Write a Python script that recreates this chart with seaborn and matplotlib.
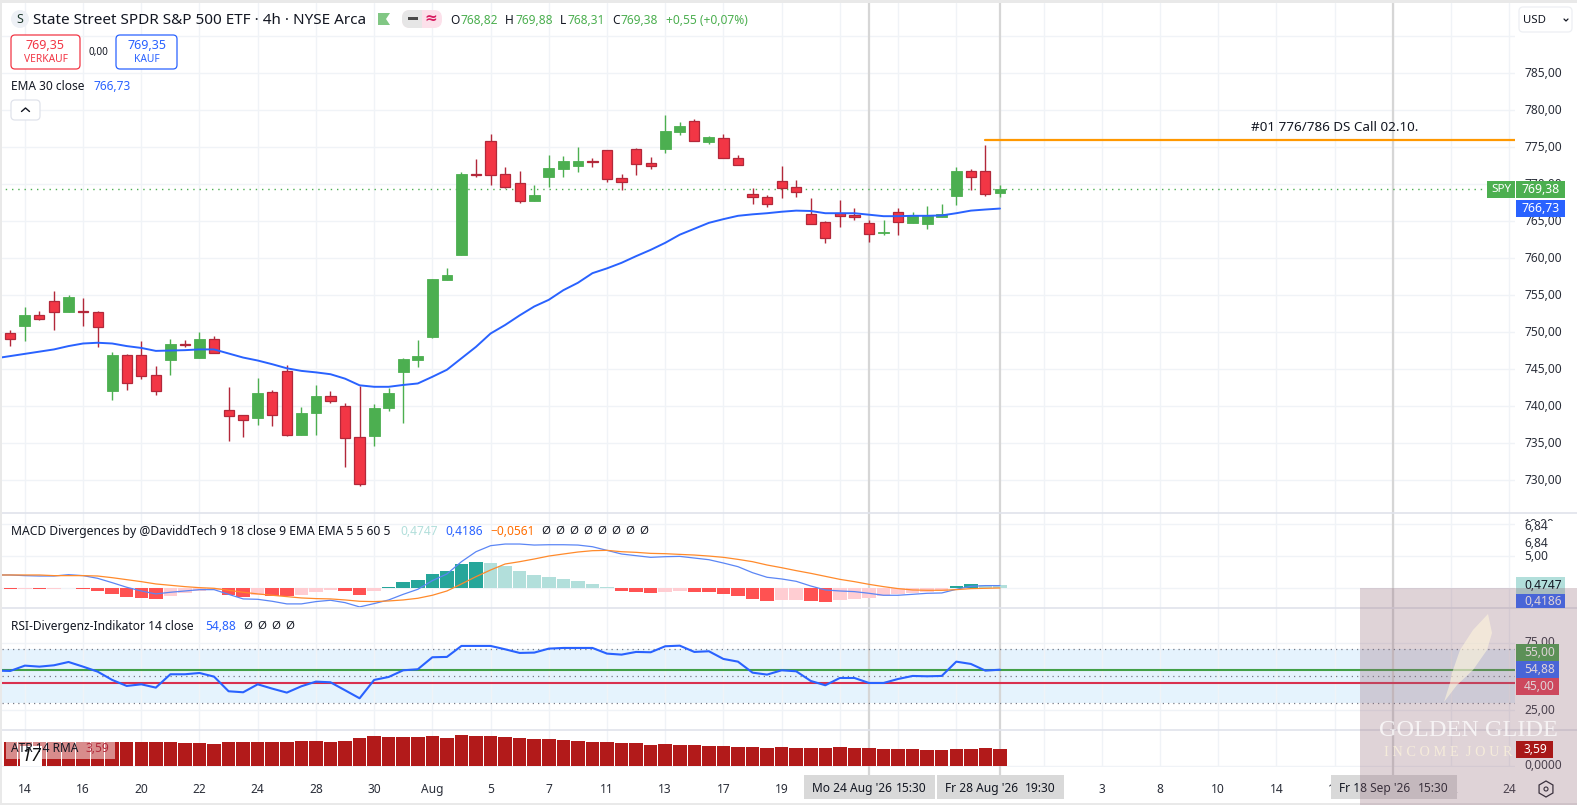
import matplotlib
matplotlib.use("Agg")
import matplotlib.pyplot as plt
import numpy as np
import seaborn as sns
from matplotlib.patches import FancyBboxPatch, Rectangle, Polygon, Circle, RegularPolygon

# ---------- data ----------
opens = [
749.9,750.9,752.3,754.3,752.8,752.9,752.7,742.1,746.9,747.0,
744.2,746.3,748.4,746.55,749.05,739.45,738.8,738.45,741.9,744.85,
736.2,739.1,741.35,740.0,735.8,736.05,739.8,744.7,746.3,749.4,
757.1,760.45,771.4,775.8,771.35,770.15,767.8,771.0,772.05,772.5,
773.15,774.6,770.8,774.75,772.85,774.75,777.05,778.5,775.7,776.2,
773.5,768.65,768.25,770.4,769.6,765.95,764.85,766.1,765.85,764.75,
763.45,766.2,764.75,764.65,765.6,768.4,771.75,771.75,768.82]
closes = [
749.05,752.35,751.85,752.8,754.8,752.8,750.75,746.95,743.2,744.15,
742.1,748.4,748.3,749.1,747.25,738.75,738.2,741.8,738.9,736.2,
739.1,741.4,740.75,735.75,729.55,739.8,741.8,746.4,746.8,757.2,
757.75,771.4,771.25,771.3,769.7,767.8,768.55,772.2,773.15,773.15,
773.0,770.75,770.35,772.8,772.5,777.2,777.9,775.8,776.4,773.6,
772.65,768.35,767.4,769.55,769.0,764.7,762.7,765.75,765.65,763.35,
763.55,764.85,765.85,765.7,766.0,771.8,771.05,768.75,769.38]
highs = [
750.3,753.4,752.9,755.6,755.05,754.6,752.9,747.35,747.05,748.85,
745.45,749.1,748.95,750.05,749.5,742.6,738.8,743.8,742.15,745.55,
739.9,742.9,742.05,740.4,742.8,740.3,742.55,746.5,748.95,757.2,
758.7,771.65,773.4,776.8,772.35,771.8,769.9,774.0,773.85,775.05,
773.55,774.6,771.4,774.9,773.7,779.35,778.4,778.85,776.55,776.8,
774.0,769.5,768.55,772.5,770.6,768.1,765.05,767.9,766.8,765.25,
765.2,766.8,766.25,767.05,767.35,772.35,772.05,775.3,769.88]
lows = [
748.1,748.9,751.7,750.3,752.8,750.8,748.05,740.9,742.25,743.75,
741.6,744.3,748.05,746.55,747.25,735.35,735.9,737.5,737.4,736.05,
736.2,736.2,740.5,731.85,729.3,734.7,739.4,737.8,745.35,749.3,
757.1,760.45,771.05,769.9,769.55,767.5,767.8,769.65,771.0,771.65,
772.35,770.3,769.3,771.25,772.05,774.25,776.65,775.8,775.45,773.6,
772.65,767.35,766.95,768.15,768.3,764.7,762.1,764.3,765.2,762.25,
763.2,763.2,764.75,763.95,765.55,767.2,769.25,768.4,768.31]
ema30 = [
746.5,746.8,747.1,747.4,747.7,748.15,748.5,748.6,748.5,748.15,747.9,
747.5,747.55,747.6,747.7,747.7,747.15,746.6,746.2,745.7,745.15,
744.8,744.6,744.35,743.75,742.85,742.65,742.65,742.9,743.1,744.0,
744.95,746.5,748.05,749.85,751.0,752.3,753.5,754.4,755.7,756.7,
758.0,758.65,759.4,760.3,761.15,762.1,763.2,764.0,764.8,765.3,
765.75,765.95,766.1,766.3,766.45,766.4,766.1,766.1,766.1,765.9,
765.7,765.7,765.75,765.75,765.8,766.1,766.45,766.6,766.73]

macd_hist = [
-0.1,-0.1,-0.1,-0.1,0.1,-0.1,-0.4,-0.9,-1.35,-1.5,
-1.65,-1.2,-0.75,-0.5,-0.3,-1.0,-1.35,-1.0,-1.2,-1.2,
-1.05,-0.55,-0.25,-0.4,-1.05,-0.4,0.2,1.0,1.3,2.25,
2.7,3.8,4.1,3.95,3.55,2.7,2.1,1.8,1.45,1.15,
0.7,0.2,-0.4,-0.55,-0.75,-0.55,-0.4,-0.55,-0.55,-0.9,
-1.2,-1.65,-2.0,-1.8,-1.8,-2.0,-2.15,-1.8,-1.65,-1.5,
-1.2,-0.9,-0.75,-0.55,-0.4,0.3,0.7,0.5,0.4747]
macd_kind = list(
"RPRPTRRRRR" "RPPPPRRPRR" "PPPRRPTTTT" "TTTLLLLLLL"
"LLRRRPPRRR" "RRRPPRRPPP" "PPPPPTTLL")
macd_line = [
2.08,2.08,1.98,1.92,1.92,2.13,1.98,1.56,0.88,0.16,-0.42,
-0.88,-0.62,-0.42,-0.21,-0.21,-0.94,-1.66,-1.72,-2.03,-2.44,
-2.44,-2.08,-1.87,-2.24,-2.91,-2.39,-1.82,-0.94,-0.16,1.2,
2.24,4.16,5.72,6.66,6.92,6.92,6.76,6.81,6.81,6.76,
6.5,5.93,5.36,5.1,4.84,4.94,4.99,4.73,4.47,3.95,
3.38,2.44,1.72,1.46,1.09,0.36,-0.26,-0.42,-0.52,-0.78,
-1.09,-1.09,-0.94,-0.78,-0.73,-0.16,0.31,0.42,0.4186]
macd_signal = [
2.08,2.08,2.08,2.08,1.98,1.98,1.98,1.92,1.66,1.35,1.04,
0.68,0.47,0.26,0.1,0.0,-0.31,-0.62,-0.88,-1.09,-1.3,
-1.51,-1.61,-1.66,-1.82,-2.03,-2.08,-1.98,-1.82,-1.56,-1.09,
-0.42,0.68,1.82,2.86,3.8,4.16,4.58,5.04,5.36,5.67,
5.88,5.93,5.72,5.62,5.46,5.41,5.3,5.2,5.04,4.84,
4.52,4.16,3.64,3.22,2.76,2.34,1.87,1.4,1.04,0.62,
0.26,-0.05,-0.26,-0.31,-0.31,-0.21,-0.05,0.0,0.05]
rsi = [
54.2,53.95,57.9,57.15,58.15,60.6,57.15,53.45,47.3,42.85,44.05,
41.6,51.5,51.5,52.45,49.75,38.9,38.15,44.05,40.85,37.9,
42.6,46.05,45.55,39.65,33.7,47.3,49.5,54.45,55.2,64.1,
64.35,72.5,72.5,72.5,70.0,67.3,67.55,70.5,71.0,71.0,
71.0,66.8,66.05,68.05,67.8,72.25,72.7,68.05,68.55,62.85,
60.85,52.7,51.25,54.45,53.7,46.55,43.35,48.75,48.75,45.05,
45.05,48.0,50.25,50.0,50.25,60.85,59.15,54.2,54.88]
atr = [
5.09,5.09,5.09,5.09,5.09,5.09,5.09,5.09,5.09,5.09,
5.09,5.09,4.87,4.87,4.66,5.09,5.09,5.09,5.09,5.09,
5.3,5.3,5.09,5.3,5.95,6.38,6.16,6.16,6.16,6.38,
5.95,6.59,6.38,6.38,6.16,5.95,5.73,5.73,5.52,5.3,
5.09,5.09,4.87,4.87,4.44,4.66,4.44,4.44,4.23,4.23,
4.01,4.01,3.8,4.01,3.8,3.8,3.8,4.01,3.8,3.8,
3.58,3.58,3.58,3.37,3.37,3.58,3.58,3.8,3.59]

tick_pos = [1,5,9,13,17,21,25,29,33,37,41,45,49,53,57,61,65,71,75,79,83,87,91,95,99,103]
tick_lab = ["14","16","20","22","24","28","30","Aug","5","7","11","13","17","19",
            "","","","","3","8","10","14","16","","22","24"]
price_ticks = [730,735,740,745,750,755,760,765,770,775,780,785,790]
cross_idx = [59,68,95]
target_level = 776.0
last_price = 769.38

# ---------- style ----------
sns.set_theme(style="white")
FONT = ["Noto Sans", "DejaVu Sans"]
plt.rcParams["font.family"] = FONT
W, H = 1577, 805
fig = plt.figure(figsize=(W/100, H/100), dpi=100, facecolor="white")

TXT = "#131722"; GRID = "#F0F3F7"; SEP = "#E0E3EB"; CROSS = "#D6D6D6"
UP = "#4CAF50"; DOWN = "#F23645"; DOWNE = "#B2283A"; BLUE = "#2962FF"
XL = (-0.57, 103.39)
AX_FS = 8.6
n = len(opens)
idx = np.arange(n)
idx_pre = np.arange(-1, n)


def pane(y0, y1, ylim, yticks=None, ylabels=None):
    ax = fig.add_axes([2/W, 1-y1/H, 1513/W, (y1-y0)/H], zorder=1)
    ax.set_facecolor("none")
    for s in ax.spines.values():
        s.set_visible(False)
    ax.set_xlim(*XL); ax.set_ylim(*ylim)
    ax.set_xticks(tick_pos)
    ax.set_xticklabels([])
    ax.tick_params(axis="x", length=0)
    ax.yaxis.tick_right()
    if yticks is not None:
        ax.set_yticks(yticks)
        ax.set_yticklabels(ylabels, fontsize=AX_FS, color="#2A2E39", va="bottom")
    else:
        ax.set_yticks([])
    ax.tick_params(axis="y", length=0, pad=6.5)
    ax.grid(True, color=GRID, lw=1.0, zorder=0)
    ax.set_axisbelow(True)
    for c in cross_idx:
        ax.axvline(c, color=CROSS, lw=1.6, zorder=0.9)
    return ax


# ---------- price pane ----------
ax = pane(3, 513, (725.6, 794.5), price_ticks,
          [f"{p},00" if p != 790 else "" for p in price_ticks])
o, c, h, l = map(np.array, (opens, closes, highs, lows))
up = c >= o
ax.vlines(idx[up], l[up], h[up], color=UP, lw=1.0, zorder=2)
ax.vlines(idx[~up], l[~up], h[~up], color=DOWNE, lw=1.0, zorder=2)
sns.barplot(x=idx[up], y=(c-o)[up], bottom=o[up], native_scale=True, width=0.74,
            color=UP, edgecolor=UP, linewidth=0.6, saturation=1, errorbar=None, ax=ax, zorder=3)
sns.barplot(x=idx[~up], y=(o-c)[~up], bottom=c[~up], native_scale=True, width=0.70,
            color=DOWN, edgecolor=DOWNE, linewidth=0.9, saturation=1, errorbar=None, ax=ax, zorder=3)
sns.lineplot(x=idx_pre, y=ema30, color=BLUE, lw=1.4, errorbar=None, ax=ax, zorder=4, legend=False)
ax.plot([-1, 101.4], [last_price]*2, color=UP, lw=1.0, ls=(0, (1, 3.5)), zorder=1.5)
ax.plot([67, 103.39], [target_level]*2, color="#FF9800", lw=1.6, zorder=5)
ax.text(91.0, 777.7, "#01 776/786 DS Call 02.10.", fontsize=9.7, color=TXT, ha="center", va="center")
ax.set_xlim(*XL); ax.set_ylim(725.6, 794.5)
ax.set_xticks(tick_pos); ax.set_xticklabels([]); ax.set_xlabel(""); ax.set_ylabel("")

# ---------- MACD pane ----------
ax2 = pane(513, 608, (-3.08, 11.77), [0, 5, 10], ["", "5,00", "10,00"])
pal = {"R": "#FF5252", "P": "#FFCDD2", "T": "#26A69A", "L": "#B2DFDB"}
sns.barplot(x=idx, y=macd_hist, hue=macd_kind, palette=pal, native_scale=True, dodge=False,
            width=0.93, saturation=1, errorbar=None, legend=False, linewidth=0, ax=ax2, zorder=2)
sns.lineplot(x=idx_pre, y=macd_line, color="#5B86F5", lw=0.9, errorbar=None, ax=ax2, zorder=3, legend=False)
sns.lineplot(x=idx_pre, y=macd_signal, color="#FF8A2B", lw=0.9, errorbar=None, ax=ax2, zorder=4, legend=False)
ax2.set_xlim(*XL); ax2.set_ylim(-3.08, 11.77)
ax2.set_xticks(tick_pos); ax2.set_xticklabels([]); ax2.set_xlabel(""); ax2.set_ylabel("")

# ---------- RSI pane ----------
ax3 = pane(608, 730, (10.2, 100.6), [25, 75], ["25,00", "75,00"])
ax3.axhspan(30, 70, color="#E3F2FD", alpha=0.9, lw=0, zorder=0.5)
for lev in (30, 50, 70):
    ax3.axhline(lev, color="#787B86", lw=0.9, ls=(0, (1, 3.2)), zorder=1)
ax3.axhline(55, color="#43A047", lw=1.5, zorder=3)
ax3.axhline(45, color="#D9304F", lw=1.5, zorder=3)
sns.lineplot(x=idx_pre, y=rsi, color=BLUE, lw=1.5, errorbar=None, ax=ax3, zorder=4, legend=False)
ax3.set_xlim(*XL); ax3.set_ylim(10.2, 100.6)
ax3.set_xticks(tick_pos); ax3.set_xticklabels([]); ax3.set_xlabel(""); ax3.set_ylabel("")

# ---------- ATR pane ----------
ax4 = pane(730, 767, (-0.28, 7.68), [0], ["0,0000"])
sns.barplot(x=idx, y=atr, native_scale=True, color="#B21A1A", width=0.93, saturation=1,
            errorbar=None, linewidth=0, ax=ax4, zorder=2)
ax4.set_xlim(*XL); ax4.set_ylim(-0.28, 7.68)
ax4.set_xticks(tick_pos)
ax4.set_xticklabels(tick_lab, fontsize=AX_FS, color="#2A2E39")
ax4.tick_params(axis="x", length=5.8, width=1.0, color=GRID, pad=5.7)
for t, s in zip(ax4.get_xticklabels(), tick_lab):
    if s == "Aug":
        t.set_fontweight("bold")
ax4.set_xlabel(""); ax4.set_ylabel("")
for c_i in cross_idx:
    ax4.vlines(c_i, -1.9, -0.28, color=CROSS, lw=1.6, clip_on=False, zorder=1)

# tick labels sit slightly above their grid lines
for a in (ax, ax2, ax3, ax4):
    for t in a.get_yticklabels():
        t.set_verticalalignment("center")
        t.set_y(t.get_position()[1])
    a.tick_params(axis="y", labelsize=AX_FS)
    for t in a.yaxis.get_major_ticks():
        t.label2.set_verticalalignment("center")
        t.label2.set_fontsize(AX_FS)

# ---------- overlay in pixel coordinates ----------
ov = fig.add_axes([0, 0, 1, 1], zorder=5)
ov.set_xlim(0, W); ov.set_ylim(H, 0); ov.axis("off"); ov.patch.set_alpha(0)


def rect(x0, y0, x1, y1, col, alpha=1.0, z=2):
    ov.add_patch(Rectangle((x0, y0), x1-x0, y1-y0, fc=col, ec="none", alpha=alpha, zorder=z))


def rbox(x0, y0, x1, y1, ec, fc="white", r=4, lw=0.9, z=2):
    ov.add_patch(FancyBboxPatch((x0+r, y0+r), x1-x0-2*r, y1-y0-2*r,
                                boxstyle=f"round,pad={r},rounding_size={r}",
                                fc=fc, ec=ec, lw=lw, zorder=z))


def txt(x, y, s, col=TXT, fs=8.6, ha="left", z=3, **kw):
    ov.text(x, y+0.8, s, color=col, fontsize=fs, ha=ha, va="center", zorder=z, **kw)


# frame
rect(0, 0, W, 3, "#E9E9E9"); rect(0, 0, 2, H, "#E9E9E9"); rect(0, 803, W, H, "#E9E9E9")
for y in (513, 608, 730):
    ov.plot([2, W], [y, y], color=SEP, lw=1.2, zorder=1)

# header
ov.add_patch(Circle((20, 19), 9, fc="#EEF1F6", ec="none", zorder=2))
txt(20, 18.5, "S", "#1F3A2E", 9, "center", fontweight="bold")
txt(33, 19.5, "State Street SPDR S&P 500 ETF · 4h · NYSE Arca", TXT, 11)
ov.add_patch(Polygon([(378, 13), (390, 13), (386, 19), (390, 25), (378, 25)], fc="#81C784", ec="none", zorder=2))
rbox(402, 10, 442, 28, "none", "#FCE0EA", 8, 0)
rbox(402, 10, 422, 28, "none", "#E6E6E6", 8, 0)
rect(414, 10, 422, 28, "#E6E6E6")
rect(408, 17.5, 418, 20.5, "#4A4A4A", z=3)
txt(431, 18.5, "≈", "#D81B60", 11, "center", fontweight="bold")
for x, s, col in [(450, "O", TXT), (460.5, "768,82", UP), (505, "H", TXT), (515, "769,88", UP),
                  (560, "L", TXT), (567.5, "768,31", UP), (612, "C", TXT), (620.5, "769,38", UP),
                  (665.5, "+0,55 (+0,07%)", UP)]:
    txt(x, 19.5, s, col, 8.6)
rbox(11, 35, 80, 69, DOWN)
txt(45.5, 45, "769,35", DOWN, 9, "center")
txt(45.5, 59, "VERKAUF", DOWN, 7.4, "center")
txt(98, 52, "0,00", TXT, 7.2, "center")
rbox(116, 35, 177, 69, BLUE)
txt(146.5, 45, "769,35", BLUE, 9, "center")
txt(146.5, 59, "KAUF", BLUE, 7.4, "center")
txt(11, 86, "EMA 30 close", TXT, 8.6)
txt(93, 86, "766,73", BLUE, 8.6)
rbox(11, 100, 40, 120, SEP)
ov.plot([21.5, 25.5, 29.5], [111.5, 108, 111.5], color=TXT, lw=1.0, zorder=3)

# indicator legends
txt(11, 530.5, "MACD Divergences by @DaviddTech 9 18 close 9 EMA EMA 5 5 60 5", TXT, 8.75)
txt(400.5, 530.5, "0,4747", "#B2DFDB", 8.6)
txt(445.5, 530.5, "0,4186", BLUE, 8.6)
txt(490.5, 530.5, "−0,0561", "#FF6D00", 8.6)
for k in range(8):
    txt(546+14*k, 530.5, "Ø", TXT, 8.2, "center")
txt(11, 625.5, "RSI-Divergenz-Indikator 14 close", TXT, 8.6)
txt(205.5, 625.5, "54,88", BLUE, 8.6)
for k in range(4):
    txt(248+14*k, 625.5, "Ø", TXT, 8.2, "center")
rect(6, 742, 115, 759, "white", 0.5)
txt(31, 755, "17", "#111111", 13, "center", fontweight="black", fontstyle="italic",
    bbox=dict(fc="white", ec="none", pad=0.8), z=2.5)
txt(11, 747.5, "ATR 14 RMA", TXT, 8.6)
txt(86, 747.5, "3,59", "#B2283A", 8.6)

# right scale
rbox(1519, 7, 1572, 32, "#EDEFF3", "white", 4)
txt(1523, 19.5, "USD", "#131722", 8.2)
ov.plot([1564, 1566, 1568], [19, 21, 19], color=TXT, lw=0.9, zorder=3)
rect(1487, 181, 1515, 198, UP); txt(1501, 189, "SPY", "white", 8.4, "center")
rect(1516, 181, 1565, 198, UP); txt(1540.5, 189, "769,38", "white", 8.8, "center")
rect(1516, 200, 1565, 217, BLUE); txt(1540.5, 208, "766,73", "white", 8.8, "center")
rect(1516, 520.5, 1566, 551, "white")
txt(1524, 526, "6,84", "#2A2E39", 8.6)
txt(1524, 542.5, "6,84", "#2A2E39", 8.6)
rect(1516, 577, 1565, 594, "#B2DFDB"); txt(1524, 584.5, "0,4747", TXT, 8.6)
rect(1516, 594, 1565, 608, BLUE); txt(1524, 600.5, "0,4186", "white", 8.6)
rect(1516, 644, 1559, 661, "#43A047"); txt(1524, 651.5, "55,00", "white", 8.6)
rect(1516, 661, 1559, 678, BLUE); txt(1524, 668.5, "54,88", "white", 8.6)
rect(1516, 678, 1559, 695, "#E53950"); txt(1524, 685.5, "45,00", "white", 8.6)
rect(1516, 741, 1553, 758, "#A81818", z=9); txt(1524, 748.5, "3,59", "white", 8.6, z=10)
ov.add_patch(RegularPolygon((1546, 789), 6, radius=8, orientation=0, fc="none", ec=TXT, lw=0.9, zorder=3))
ov.add_patch(Circle((1546, 789), 2, fc="none", ec=TXT, lw=0.8, zorder=3))

# crosshair date boxes
for x0, x1, s1, s2 in [(804, 935, "Mo 24 Aug '26", "15:30"),
                       (937, 1064, "Fr 28 Aug '26", "19:30"),
                       (1331, 1457, "Fr 18 Sep '26", "15:30")]:
    rect(x0, 775, x1, 799, "#D9D9D9")
    txt(x0+8, 788, s1, TXT, 8.6)
    txt(x1-8, 788, s2, TXT, 8.6, "right")

# watermark
rect(1360, 588, W, H, (150/255, 110/255, 125/255), 0.30, z=6)
feather = [(1488, 614), (1492, 633), (1487, 650), (1473, 670), (1457, 685), (1444, 702),
           (1450, 683), (1452, 673), (1460, 650), (1473, 630)]
ov.add_patch(Polygon(feather, fc="#FFF6DC", ec="none", alpha=0.6, zorder=7))
ov.text(1468, 730, "GOLDEN GLIDE", color="white", alpha=0.75, fontsize=17.5,
        family="Liberation Serif", ha="center", va="center", zorder=8)
ov.text(1468, 752.5, "I N C O M E  J O U R N A L", color="#FFF6DC", alpha=0.7, fontsize=10.3,
        family="Liberation Serif", ha="center", va="center", zorder=8)

fig.savefig("out.png", dpi=100, facecolor="white")
